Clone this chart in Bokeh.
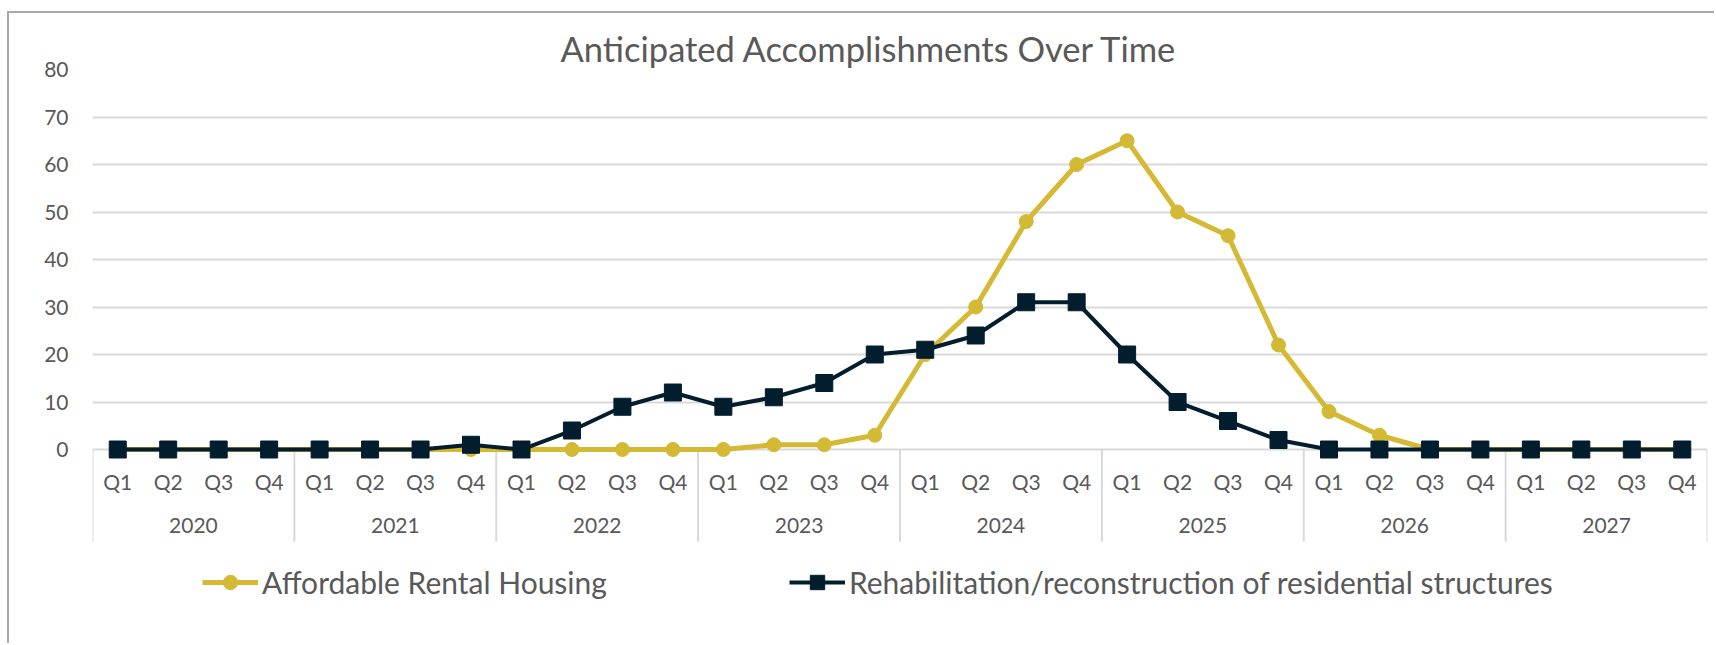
from bokeh.plotting import figure
from bokeh.models import (FactorRange, Range1d, FixedTicker, Legend, LegendItem,
                          ColumnDataSource)
from bokeh.core.properties import value
from bokeh.embed import file_html
from bokeh.resources import INLINE

# ---- data ----
years = ["2020", "2021", "2022", "2023", "2024", "2025", "2026", "2027"]
quarters = ["Q1", "Q2", "Q3", "Q4"]
affordable = [0, 0, 0, 0,  0, 0, 0, 0,  0, 0, 0, 0,  0, 1, 1, 3,
              20, 30, 48, 60,  65, 50, 45, 22,  8, 3, 0, 0,  0, 0, 0, 0]
rehab = [0, 0, 0, 0,  0, 0, 0, 1,  0, 4, 9, 12,  9, 11, 14, 20,
         21, 24, 31, 31,  20, 10, 6, 2,  0, 0, 0, 0,  0, 0, 0, 0]
y_ticks = [0, 10, 20, 30, 40, 50, 60, 70, 80]
series_names = ["Affordable Rental Housing",
                "Rehabilitation/reconstruction of residential structures"]
title_text = "Anticipated Accomplishments Over Time"

GOLD = "#D4B935"
NAVY = "#021E2E"
TEXT = "#595959"
GRID = "#D9D9D9"
BORDER = "#A9A9A9"
FONT = "Lato"

factors = [(y, q) for y in years for q in quarters]

W, H = 1707, 632
p = figure(width=W, height=H,
           x_range=FactorRange(*factors, range_padding=0, factor_padding=0,
                               group_padding=0, subgroup_padding=0),
           y_range=Range1d(-41.26, 80),
           output_backend="svg", toolbar_location=None,
           min_border_left=83, min_border_right=9, min_border_top=56,
           min_border_bottom=0)
p.styles = {"margin-left": "7px", "margin-top": "11px",
            "border-left": f"2px solid {BORDER}",
            "border-top": f"2px solid {BORDER}"}
p.outline_line_color = None
p.background_fill_color = "white"
p.border_fill_color = "white"

p.title.text = title_text
p.title.align = "left"
p.title.offset = 468
p.title.standoff = 1
p.title.text_line_height = 1.45
p.title.text_font = FONT
p.title.text_font_style = "normal"
p.title.text_font_size = "34.5px"
p.title.text_color = TEXT

# y axis
p.yaxis.ticker = FixedTicker(ticks=y_ticks)
p.yaxis.axis_line_color = None
p.yaxis.major_tick_line_color = None
p.yaxis.minor_tick_line_color = None
p.yaxis.major_label_standoff = 18
p.yaxis.major_label_text_font = FONT
p.yaxis.major_label_text_font_size = "21px"
p.yaxis.major_label_text_color = TEXT

p.ygrid.ticker = FixedTicker(ticks=y_ticks)
p.ygrid.grid_line_color = GRID
p.ygrid.grid_line_width = 2
p.xgrid.visible = False

# x axis (nested categorical) placed at y=0; quarter labels from the axis
xa = p.xaxis[0]
xa.fixed_location = 0
xa.axis_line_color = None
xa.major_tick_line_color = None
xa.minor_tick_line_color = None
xa.separator_line_color = None
xa.major_label_standoff = 13
xa.major_label_text_font = FONT
xa.major_label_text_font_size = "21px"
xa.major_label_text_color = TEXT
xa.group_text_color = None

# year labels, centred under each group
year_x = [(y, "Q2", 0.5) for y in years]
p.text(x=year_x, y=[-16.0] * len(years), text=years,
       text_font=value(FONT), text_font_size="21px", text_color=TEXT,
       text_align="center", text_baseline="middle")

# group separators
sep_x = [(y, "Q1", -0.5) for y in years] + [(years[-1], "Q4", 0.5)]
p.segment(x0=sep_x, y0=[0] * len(sep_x), x1=sep_x, y1=[-19.4] * len(sep_x),
          line_color=GRID, line_width=2)

src = ColumnDataSource(dict(x=factors, a=affordable, r=rehab))
la = p.line("x", "a", source=src, line_color=GOLD, line_width=5)
sa = p.scatter("x", "a", source=src, marker="circle", size=14,
               fill_color=GOLD, line_color=GOLD)
lr = p.line("x", "r", source=src, line_color=NAVY, line_width=4)
sr = p.scatter("x", "r", source=src, marker="square", size=17,
               fill_color=NAVY, line_color=NAVY)

legend = Legend(items=[LegendItem(label=series_names[0], renderers=[la, sa]),
                       LegendItem(label=series_names[1], renderers=[lr, sr])],
                orientation="horizontal", location=(110, 45), spacing=182,
                glyph_width=56, glyph_height=36, label_standoff=4,
                label_text_font=FONT, label_text_font_size="30px",
                label_text_color=TEXT, border_line_color=None,
                background_fill_alpha=0, padding=0, margin=0)
p.add_layout(legend)

open("out.html", "w").write(file_html(p, INLINE))
